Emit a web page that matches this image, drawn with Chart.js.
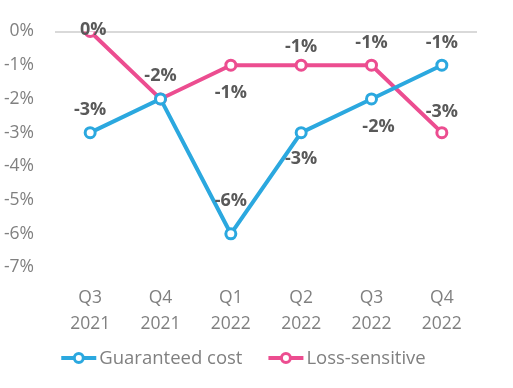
<!DOCTYPE html>
<html><head><meta charset="utf-8">
<script src="https://cdn.jsdelivr.net/npm/chart.js@4/dist/chart.umd.min.js"></script>
<style>html,body{margin:0;padding:0;background:#fff}#w{width:513px;height:388px}</style>
</head><body><div id="w"><canvas id="c"></canvas></div>
<script>
const categories = [["Q3","2021"],["Q4","2021"],["Q1","2022"],["Q2","2022"],["Q3","2022"],["Q4","2022"]];
const guaranteedCost = [-3, -2, -6, -3, -2, -1];
const lossSensitive = [0, -2, -1, -1, -1, -3];
const yTicks = [0, -1, -2, -3, -4, -5, -6, -7];
// label offsets (px) relative to point: [dx, dy]; null = hidden
const gcLabelOffsets = [[0,-23],null,[0,-33],[0,26],[7,28],[0,-22]];
const lsLabelOffsets = [[3,-2],[0,-23],[0,28],[0,-18],[0,-22],[0,-21]];

const BLUE = '#2BA8DF', PINK = '#EC4D90';
const FONT = '"Open Sans", sans-serif';
const labelPlugin = {
  id:'dl',
  afterDatasetsDraw(chart){
    const ctx = chart.ctx;
    ctx.save();
    ctx.font = 'bold 18px ' + FONT;
    ctx.fillStyle = '#595959';
    ctx.textAlign = 'center'; ctx.textBaseline = 'middle';
    chart.data.datasets.forEach((ds, di) => {
      const meta = chart.getDatasetMeta(di);
      const offs = ds.labelOffsets;
      meta.data.forEach((pt, i) => {
        const o = offs[i]; if (!o) return;
        ctx.fillText(ds.data[i] + '%', pt.x + o[0], pt.y + o[1]);
      });
    });
    ctx.restore();
  },
  afterDraw(chart){
    // custom legend: line + hollow marker + text
    const ctx = chart.ctx;
    ctx.save();
    ctx.font = '18.5px ' + FONT;
    ctx.textBaseline = 'middle'; ctx.textAlign = 'left';
    const ds = chart.data.datasets;
    const lineW = 35, gapT = 3, gapItem = 26;
    const widths = ds.map(d => ctx.measureText(d.label).width);
    let total = 0; widths.forEach((w,i)=>{ total += lineW + gapT + w + (i ? gapItem : 0); });
    let x = chart.width/2 - 13 - total/2;
    const y = 358;
    ds.forEach((d,i) => {
      ctx.strokeStyle = d.borderColor; ctx.lineWidth = 4;
      ctx.beginPath(); ctx.moveTo(x, y); ctx.lineTo(x+lineW, y); ctx.stroke();
      ctx.beginPath(); ctx.arc(x+lineW/2, y, 4.5, 0, Math.PI*2);
      ctx.fillStyle = '#fff'; ctx.fill(); ctx.lineWidth = 3; ctx.stroke();
      ctx.fillStyle = '#808080';
      ctx.fillText(d.label, x+lineW+gapT, y+1);
      x += lineW + gapT + widths[i] + gapItem;
    });
    ctx.restore();
  }
};

new Chart(document.getElementById('c'), {
  type:'line',
  data:{
    labels: categories,
    datasets:[
      {label:'Guaranteed cost', data:guaranteedCost, borderColor:BLUE, backgroundColor:'#fff', borderWidth:4,
       pointRadius:5, pointBorderWidth:3, pointBackgroundColor:'#fff', pointBorderColor:BLUE, labelOffsets:gcLabelOffsets},
      {label:'Loss-sensitive', data:lossSensitive, borderColor:PINK, backgroundColor:'#fff', borderWidth:4,
       pointRadius:5, pointBorderWidth:3, pointBackgroundColor:'#fff', pointBorderColor:PINK, labelOffsets:lsLabelOffsets}
    ]
  },
  options:{
    responsive:true, maintainAspectRatio:false, animation:false,
    layout:{padding:{top:31,right:36,left:0,bottom:42}},
    plugins:{
      legend:{display:false},
      tooltip:{enabled:false}
    },
    scales:{
      x:{offset:true, grid:{display:false}, border:{display:false},
         ticks:{color:'#808080', font:{family:FONT, size:17.5, lineHeight:1.5}, maxRotation:0, padding:9}},
      y:{min:-7, max:0, afterBuildTicks(ax){ax.ticks = yTicks.map(v=>({value:v}));},
         afterFit(ax){ax.width = 55;},
         grid:{color:(c)=>c.tick && c.tick.value===0 ? '#D9D9D9' : 'rgba(0,0,0,0)', lineWidth:2, drawTicks:false},
         border:{display:false},
         ticks:{color:'#808080', padding:21, font:{family:FONT, size:17.5}, callback:v=>v+'%'}}
    }
  },
  plugins:[labelPlugin]
});
</script></body></html>
